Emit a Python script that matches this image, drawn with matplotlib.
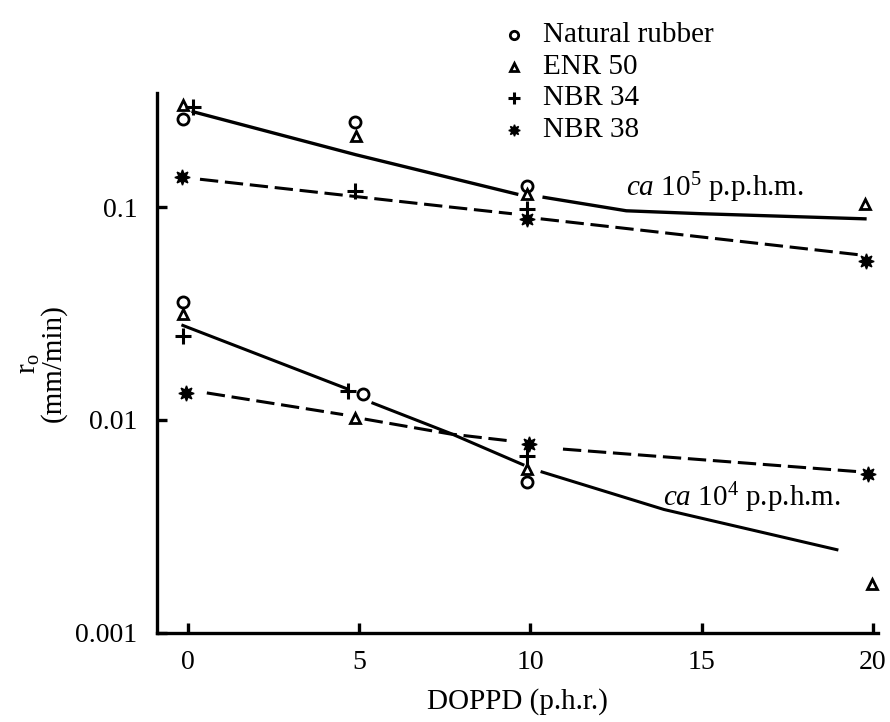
import matplotlib
matplotlib.use("Agg")
import matplotlib.pyplot as plt
import numpy as np

plt.rcParams['font.family'] = ['Liberation Serif', 'DejaVu Serif']
plt.rcParams['mathtext.fontset'] = 'custom'
plt.rcParams['mathtext.rm'] = 'Liberation Serif'
plt.rcParams['mathtext.it'] = 'Liberation Serif:italic'

# ---- data ----
series_names = ["Natural rubber", "ENR 50", "NBR 34", "NBR 38"]

nr_x = [-0.15, 4.88, 9.9, -0.15, 5.1, 9.9]
nr_y = [0.26, 0.25, 0.126, 0.036, 0.0133, 0.0051]

enr_x = [-0.15, 4.9, 9.9, 19.77, -0.15, 4.88, 9.9, 19.97]
enr_y = [0.30, 0.216, 0.115, 0.103, 0.0316, 0.0102, 0.0059, 0.0017]

nbr34_x = [0.15, 4.88, 9.9, -0.15, 4.67, 9.9]
nbr34_y = [0.295, 0.119, 0.098, 0.0249, 0.0137, 0.0068]

nbr38_x = [-0.18, 9.9, 19.8, -0.06, 9.95, 19.85]
nbr38_y = [0.138, 0.088, 0.0557, 0.0134, 0.0077, 0.0056]

# fitted curves (gaps as NaN)
up_solid_x = [0.15, 4.9, 9.6, np.nan, 10.4, 12.8, 15.0, 19.77]
up_solid_y = [0.28, 0.176, 0.115, np.nan, 0.111, 0.096, 0.093, 0.088]
up_dash_x = [0.35, 7.65, 9.46, np.nan, 10.3, 19.7]
up_dash_y = [0.135, 0.100, 0.093, np.nan, 0.088, 0.0594]
lo_solid_x = [-0.15, 4.65, np.nan, 5.4, 7.65, 9.78, np.nan, 10.34, 13.9, 18.95]
lo_solid_y = [0.0278, 0.0140, np.nan, 0.0120, 0.00867, 0.00617, np.nan, 0.0057, 0.0038, 0.00246]
lo_dash_x = [0.55, 4.53, np.nan, 5.16, 7.65, 9.34, np.nan, 10.95, 19.7]
lo_dash_y = [0.0134, 0.0106, np.nan, 0.0101, 0.0086, 0.0080, np.nan, 0.0073, 0.0057]

x_ticks = [0, 5, 10, 15, 20]
y_ticks = [0.001, 0.01, 0.1]
y_ticklabels = ["0.001", "0.01", "0.1"]

# ---- figure ----
fig = plt.figure(figsize=(8.9, 7.22), dpi=100)
ax = fig.add_axes([0.1764, 0.1233, 0.8101, 0.7479])
ax.set_yscale('log')
ax.set_xlim(-0.905, 20.15)
ax.set_ylim(0.001, 0.343)

k = 'black'
ax.plot(up_solid_x, up_solid_y, color=k, lw=2.4)
ax.plot(lo_solid_x, lo_solid_y, color=k, lw=2.2)
ax.plot(up_dash_x, up_dash_y, color=k, lw=2.2, dashes=(6, 2.2))
ax.plot(lo_dash_x, lo_dash_y, color=k, lw=2.2, dashes=(6, 2.2))

mk = dict(linestyle='none', color=k, clip_on=False)
styles = [
    dict(marker='o', ms=8, mfc='white', mew=2.0),
    dict(marker='^', ms=7.5, mfc='white', mew=2.0),
    dict(marker='+', ms=11, mew=2.2),
    dict(marker=(8, 1, 0), ms=11, mfc=k, mew=1.0),
]
data = [(nr_x, nr_y), (enr_x, enr_y), (nbr34_x, nbr34_y), (nbr38_x, nbr38_y)]
for (xs, ys), st in zip(data, styles):
    ax.plot(xs, ys, **mk, **st, zorder=3)

# axes styling
for s in ['top', 'right']:
    ax.spines[s].set_visible(False)
for s in ['left', 'bottom']:
    ax.spines[s].set_linewidth(2.4)
ax.set_xticks(x_ticks)
ax.set_xticklabels([str(t) for t in x_ticks])
ax.set_yticks(y_ticks)
ax.set_yticklabels(y_ticklabels)
ax.minorticks_off()
ax.tick_params(axis='both', direction='in', length=7, width=2.4, labelsize=20)
ax.tick_params(axis='x', pad=12)
ax.tick_params(axis='y', pad=14)

ax.set_xlabel("DOPPD (p.h.r.)", fontsize=21, labelpad=10)
ax.set_ylabel("r$_\\mathrm{o}$\n(mm/min)", fontsize=21, labelpad=6, linespacing=0.9)

ax.text(12.8, 0.123, "$\\it{ca}$ 10$^5$ p.p.h.m.", fontsize=21, ha='left', va='center')
ax.text(13.87, 0.0043, "$\\it{ca}$ 10$^4$ p.p.h.m.", fontsize=21, ha='left', va='center')

# legend (manual)
leg_y = [0.9515, 0.907, 0.864, 0.82]
for name, st, yy in zip(series_names, styles, leg_y):
    st2 = dict(st)
    st2['ms'] = st['ms'] * 0.75
    fig.add_artist(plt.Line2D([0.578], [yy], transform=fig.transFigure, linestyle='none', color=k, **st2))
    fig.text(0.610, yy, name, fontsize=21, ha='left', va='center')

fig.savefig("out.png", dpi=100)
